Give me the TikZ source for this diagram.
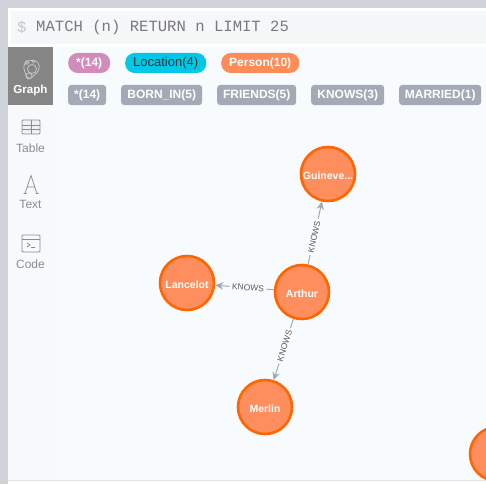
\documentclass[tikz,border=0pt]{standalone}
\usepackage{fontspec}
\setmainfont{Liberation Sans}
\newfontfamily\codefont{Liberation Mono}
\usetikzlibrary{arrows.meta}
\definecolor{pagegrey}{HTML}{D0D3D9}
\definecolor{barbg}{HTML}{F6F7F9}
\definecolor{sidebg}{HTML}{F8F9FB}
\definecolor{mainbg}{HTML}{F8FBFE}
\definecolor{selgrey}{HTML}{858585}
\definecolor{iconGrey}{HTML}{8A8D90}
\definecolor{pillpink}{HTML}{D28BBB}
\definecolor{pillcyan}{HTML}{00C8E6}
\definecolor{pillorange}{HTML}{FF8B58}
\definecolor{pillgrey}{HTML}{A3AAB5}
\definecolor{nodefill}{HTML}{FF8E5E}
\definecolor{nodeline}{HTML}{FF6600}
\definecolor{edgegrey}{HTML}{A3AAB5}
\tikzset{
  pill/.style={rounded corners=9.5pt,minimum height=20pt,inner sep=0pt,font=\fontsize{12}{14}\selectfont,text=white,anchor=west},
  reltag/.style={rounded corners=3pt,fill=pillgrey,minimum height=20pt,inner sep=0pt,font=\fontsize{12}{14}\selectfont,text=white,anchor=west},
  person/.style={circle,draw=nodeline,line width=2.6pt,fill=nodefill,minimum size=54pt,inner sep=0pt,text=white,text height=11pt,text depth=0.6pt,font=\fontsize{10.5}{12}\selectfont\bfseries},
  rel/.style={draw=edgegrey,line width=1pt,-{Stealth[length=8pt,width=7.5pt]}},
  rellabel/.style={fill=mainbg,inner xsep=2.5pt,inner ysep=1pt,text=black!65,font=\fontsize{8.5}{10}\selectfont},
  tabname/.style={text=iconGrey,font=\fontsize{12}{14}\selectfont},
  icon/.style={draw=iconGrey,line width=.8pt}
}
\begin{document}
\begin{tikzpicture}[x=1pt,y=-1pt]
\useasboundingbox (0,0) rectangle (486,484);
% panels
\fill[pagegrey] (0,0) rectangle (486,484);
\fill[white] (8,8) rectangle (486,484);
\fill[barbg] (11,11) rectangle (486,44);
\fill[sidebg] (8,47) rectangle (53,480);
\fill[mainbg] (53,47) rectangle (486,480);
\fill[selgrey] (8,47) rectangle (53,105);
\draw[pagegrey!60,line width=.8pt] (8,480.5) -- (486,480.5);
% editor
\node[anchor=west,inner sep=0pt,text=black!22,font=\codefont\fontsize{15.6}{18}\selectfont] (prompt) at (17,27) {\$};
\node[anchor=west,inner sep=0pt,text=black!52,font=\codefont\fontsize{15.6}{18}\selectfont] (query) at (36,27) {MATCH (n) RETURN n LIMIT 25};
% sidebar: graph
\begin{scope}[draw=white!80!black,line width=.7pt]
\draw (31,60.5) .. controls (25,60) and (23,66) .. (24,69) .. controls (25,73) and (26,75) .. (27,77) .. controls (29,79) and (33,78) .. (34,75) .. controls (37,73) and (40,70) .. (39,65) .. controls (38,61) and (35,60.5) .. (31,60.5) -- cycle;
\draw (32,69) circle (4.5);
\draw (29,76) circle (3);
\draw (27,62.5) circle (1.8);
\draw (33.5,61.5) circle (1.5);
\end{scope}
\node[text=white,font=\fontsize{11.6}{14}\selectfont\bfseries] (graphtab) at (30.5,91) {Graph};
% sidebar: table
\draw[icon,rounded corners=1pt,fill=iconGrey!12] (22,120) rectangle (40,134);
\draw[icon] (22,125) -- (40,125) (22,129.5) -- (40,129.5) (31,120) -- (31,134);
\node[tabname] (tabletab) at (30.5,148.5) {Table};
% sidebar: text
\draw[icon,line width=.7pt] (23.5,193.5) -- (26.5,193.5) (25,193.5) -- (31,175.5) -- (37,193.5) (35.5,193.5) -- (38.5,193.5) (26.8,187) -- (35.2,187);
\node[tabname] (texttab) at (30.5,204.5) {Text};
% sidebar: code
\draw[icon,rounded corners=1pt] (22,235) rectangle (40,252);
\draw[icon] (22,239.5) -- (40,239.5);
\draw[icon] (27,243) -- (30,245) -- (27,247) (31,247.5) -- (35,247.5);
\node[tabname] (codetab) at (30.5,264.5) {Code};
% pills row one
\node[pill,fill=pillpink,minimum width=42pt] (p1) at (68,63) {\textbf{*(14)}};
\node[pill,fill=pillcyan,minimum width=81pt,text=black!80,font=\fontsize{13}{14}\selectfont] (p2) at (125,63) {Location(4)};
\node[pill,fill=pillorange,minimum width=78pt] (p3) at (221,63) {\textbf{Person(10)}};
% tags row two
\node[reltag,minimum width=38pt] (r1) at (68,95) {\textbf{*(14)}};
\node[reltag,minimum width=81pt] (r2) at (121,95) {\textbf{BORN\_IN(5)}};
\node[reltag,minimum width=79pt] (r3) at (217,95) {\textbf{FRIENDS(5)}};
\node[reltag,minimum width=73pt] (r4) at (311,95) {\textbf{KNOWS(3)}};
\node[reltag,minimum width=82pt] (r5) at (399,95) {\textbf{MARRIED(1)}};
% graph
\node[person] (guinevere) at (328,174) {Guineve...};
\node[person] (lancelot) at (187,283) {Lancelot};
\node[person] (arthur) at (302,292) {Arthur};
\node[person] (merlin) at (265,407) {Merlin};
\begin{scope}
\clip (53,47) rectangle (486,480);
\node[person] (other) at (497,454) {};
\end{scope}
\draw[rel] (arthur) -- node[rellabel,sloped,pos=.44] {KNOWS} (guinevere);
\draw[rel] (arthur) -- node[rellabel,sloped,pos=.44] {KNOWS} (lancelot);
\draw[rel] (arthur) -- node[rellabel,sloped,pos=.44] {KNOWS} (merlin);
\end{tikzpicture}
\end{document}
